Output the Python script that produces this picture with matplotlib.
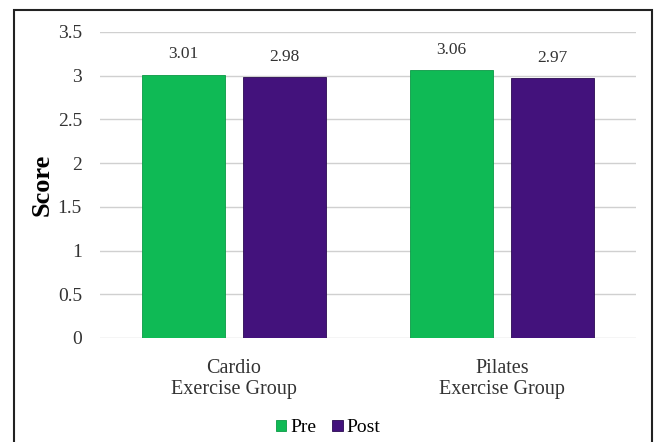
import matplotlib.pyplot as plt
import numpy as np
from matplotlib.patches import Rectangle

groups = ["Cardio\nExercise Group", "Pilates\nExercise Group"]
pre = [3.01, 3.06]
post = [2.98, 2.97]

green = "#0fba55"
purple = "#43127c"

plt.rcParams['font.family'] = ['Liberation Serif', 'DejaVu Serif']

fig = plt.figure(figsize=(6.57, 4.42), dpi=100)
ax = fig.add_axes([100/657, 1-338/442, 536/657, 306/442])

x = np.arange(len(groups))
w = 0.31
off = 0.188
b1 = ax.bar(x-off, pre, w, color=green, edgecolor="#0a9a45", linewidth=0.6, label="Pre", zorder=3)
b2 = ax.bar(x+off, post, w, color=purple, edgecolor="#2a0a52", linewidth=0.6, label="Post", zorder=3)

for bars, vals in ((b1, pre), (b2, post)):
    for r, v in zip(bars, vals):
        ax.annotate("%.2f" % v, (r.get_x()+r.get_width()/2, v), xytext=(0, 9),
                    textcoords="offset points", ha="center", va="bottom",
                    fontsize=12.5, color="#333333")

ax.set_xlim(-0.5, 1.5)
ax.set_ylim(0, 3.5)
ax.set_yticks(np.arange(0, 3.6, 0.5))
ax.set_yticklabels(["0", "0.5", "1", "1.5", "2", "2.5", "3", "3.5"])
ax.set_xticks(x)
ax.set_xticklabels(groups, fontsize=14.5, color="#333333", linespacing=1.15)
ax.tick_params(axis="y", length=0, pad=13, labelsize=14, labelcolor="#333333")
ax.tick_params(axis="x", length=0, pad=15)
ax.grid(axis="y", color="#d0d0d0", linewidth=1, zorder=0)
for s in ax.spines.values():
    s.set_visible(False)
ax.set_ylabel("Score", fontsize=19, fontweight="bold", labelpad=3)

leg = fig.legend(handles=[b1, b2], loc="center", bbox_to_anchor=(328/657, 1-428/442),
                 ncol=2, frameon=False, fontsize=14, handlelength=0.55, handleheight=0.55,
                 handletextpad=0.2, columnspacing=0.8)

# outer frame
fig.patches.append(Rectangle((14/657, -0.01), (652-14)/657, 1-10/442+0.01,
                             transform=fig.transFigure, fill=False,
                             edgecolor="#222222", linewidth=1.5))

fig.savefig("out.png", dpi=100)
